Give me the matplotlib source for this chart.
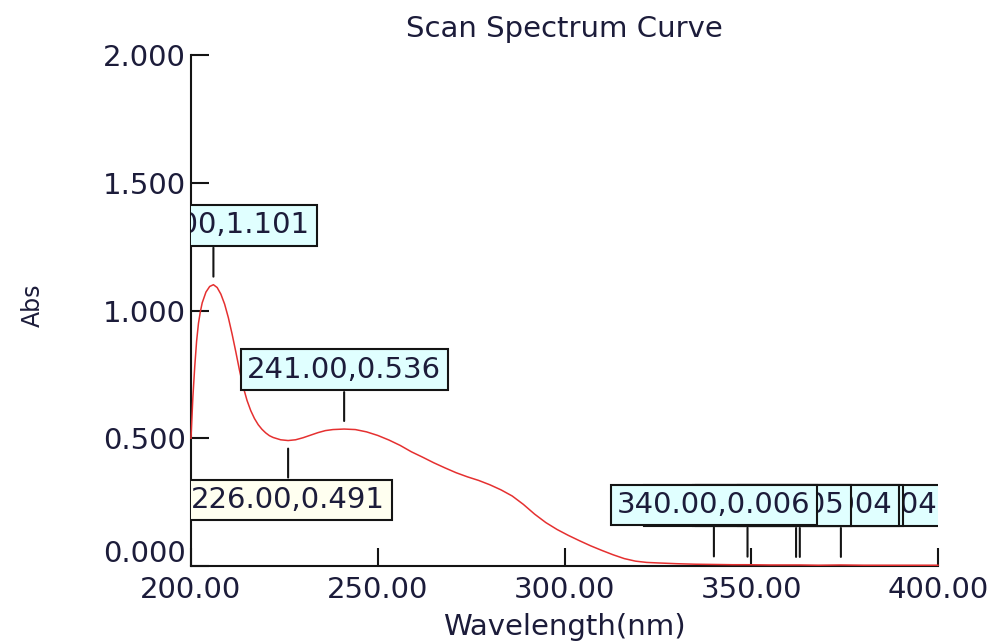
import matplotlib
matplotlib.use("Agg")
import matplotlib.pyplot as plt
from matplotlib.transforms import ScaledTranslation

# Scan spectrum (wavelength in nm, absorbance)
wavelength = [200, 200.5, 201, 201.5, 202, 202.5, 203, 204, 205, 206, 207, 208, 209,
              210, 211, 212, 213, 214, 215, 216, 217, 218, 219, 220, 221, 222, 224,
              226, 228, 230, 232, 234, 236, 238, 241, 244, 247, 250, 253, 256, 259,
              262, 265, 268, 271, 274, 277, 280, 283, 286, 289, 292, 295, 298, 301,
              304, 307, 310, 313, 316, 319, 322, 325, 330, 335, 340, 345, 349, 355,
              362, 363, 368, 374, 380, 390, 400]
absorbance = [0.500, 0.660, 0.780, 0.880, 0.950, 0.995, 1.030, 1.072, 1.094, 1.101,
              1.090, 1.064, 1.025, 0.972, 0.908, 0.838, 0.765, 0.700, 0.648, 0.608,
              0.577, 0.553, 0.535, 0.521, 0.510, 0.503, 0.494, 0.491, 0.494, 0.502,
              0.512, 0.522, 0.530, 0.534, 0.536, 0.534, 0.525, 0.511, 0.493, 0.472,
              0.447, 0.426, 0.404, 0.384, 0.365, 0.349, 0.335, 0.318, 0.298, 0.274,
              0.241, 0.203, 0.170, 0.143, 0.120, 0.099, 0.079, 0.061, 0.044, 0.029,
              0.019, 0.014, 0.012, 0.009, 0.007, 0.006, 0.005, 0.005, 0.004, 0.004,
              0.004, 0.003, 0.004, 0.003, 0.003, 0.003]

# Picked peaks and valleys
peak_nm = [206.0, 241.0, 340.0, 349.0, 362.0, 363.0, 374.0]
peak_abs = [1.101, 0.536, 0.006, 0.005, 0.004, 0.004, 0.004]
valley_nm = [226.0]
valley_abs = [0.491]

x_ticks = [200, 250, 300, 350, 400]
y_ticks = [0.0, 0.5, 1.0, 1.5, 2.0]

TEXT = "#1c1c3a"
INK = "#141414"
FS = 21

plt.rcParams['font.family'] = ['DejaVu Sans']

W, H = 992, 641
fig = plt.figure(figsize=(W / 100, H / 100), dpi=100)
ax = fig.add_axes([191 / W, 1 - 566 / H, (938 - 191) / W, (566 - 55) / H])

ax.plot(wavelength, absorbance, color="#e53030", lw=1.1, zorder=2.7, clip_on=False)

ax.set_xlim(200, 400)
ax.set_ylim(0, 2)
ax.set_xticks(x_ticks, [f"{v:.2f}" for v in x_ticks])
ax.set_yticks(y_ticks, [f"{v:.3f}" for v in y_ticks])

for side in ("top", "right"):
    ax.spines[side].set_visible(False)
for side in ("left", "bottom"):
    ax.spines[side].set_linewidth(1.5)
    ax.spines[side].set_color(INK)

ax.tick_params(direction="in", length=13, width=1.5, color=INK,
               labelsize=FS, labelcolor=TEXT)
ax.tick_params(axis="x", pad=7)
ax.tick_params(axis="y", pad=3.6)

# lift the zero label off the x axis
zero_lbl = ax.yaxis.get_major_ticks()[0].label1
zero_lbl.set_verticalalignment("baseline")
zero_lbl.set_transform(zero_lbl.get_transform()
                       + ScaledTranslation(0, 3 / 72, fig.dpi_scale_trans))

ax.set_title("Scan Spectrum Curve", fontsize=FS, color=TEXT, pad=13)
ax.set_xlabel("Wavelength(nm)", fontsize=FS, color=TEXT)
ax.xaxis.set_label_coords(0.5, -0.092)
ax.set_ylabel("Abs", fontsize=17, color=TEXT)
ax.yaxis.set_label_coords(-0.2115, 0.51)
ax.yaxis.label.set_verticalalignment("center")


def mark(x, y, above, face, z):
    sign = 1 if above else -1
    ax.annotate("", xy=(x, y), xytext=(0, sign * 37), textcoords="offset pixels",
                arrowprops=dict(arrowstyle="-", color=INK, lw=1.5,
                                shrinkA=0, shrinkB=5.8),
                zorder=z, annotation_clip=False)
    t = ax.annotate(f"{x:.2f},{y:.3f}", xy=(x, y),
                    xytext=(0, sign * (37 + 22.5)), textcoords="offset pixels",
                    ha="center", va="center", fontsize=FS, color=TEXT,
                    bbox=dict(boxstyle="square,pad=0.22", fc=face, ec=INK, lw=1.5),
                    zorder=z, annotation_clip=False)
    t.set_clip_box(ax.bbox)
    t.set_clip_on(True)


for i, (x, y) in enumerate(zip(peak_nm, peak_abs)):
    mark(x, y, True, "#e0ffff", 20 - i)
for x, y in zip(valley_nm, valley_abs):
    mark(x, y, False, "#fffff0", 20)

fig.savefig("out.png", dpi=100)
